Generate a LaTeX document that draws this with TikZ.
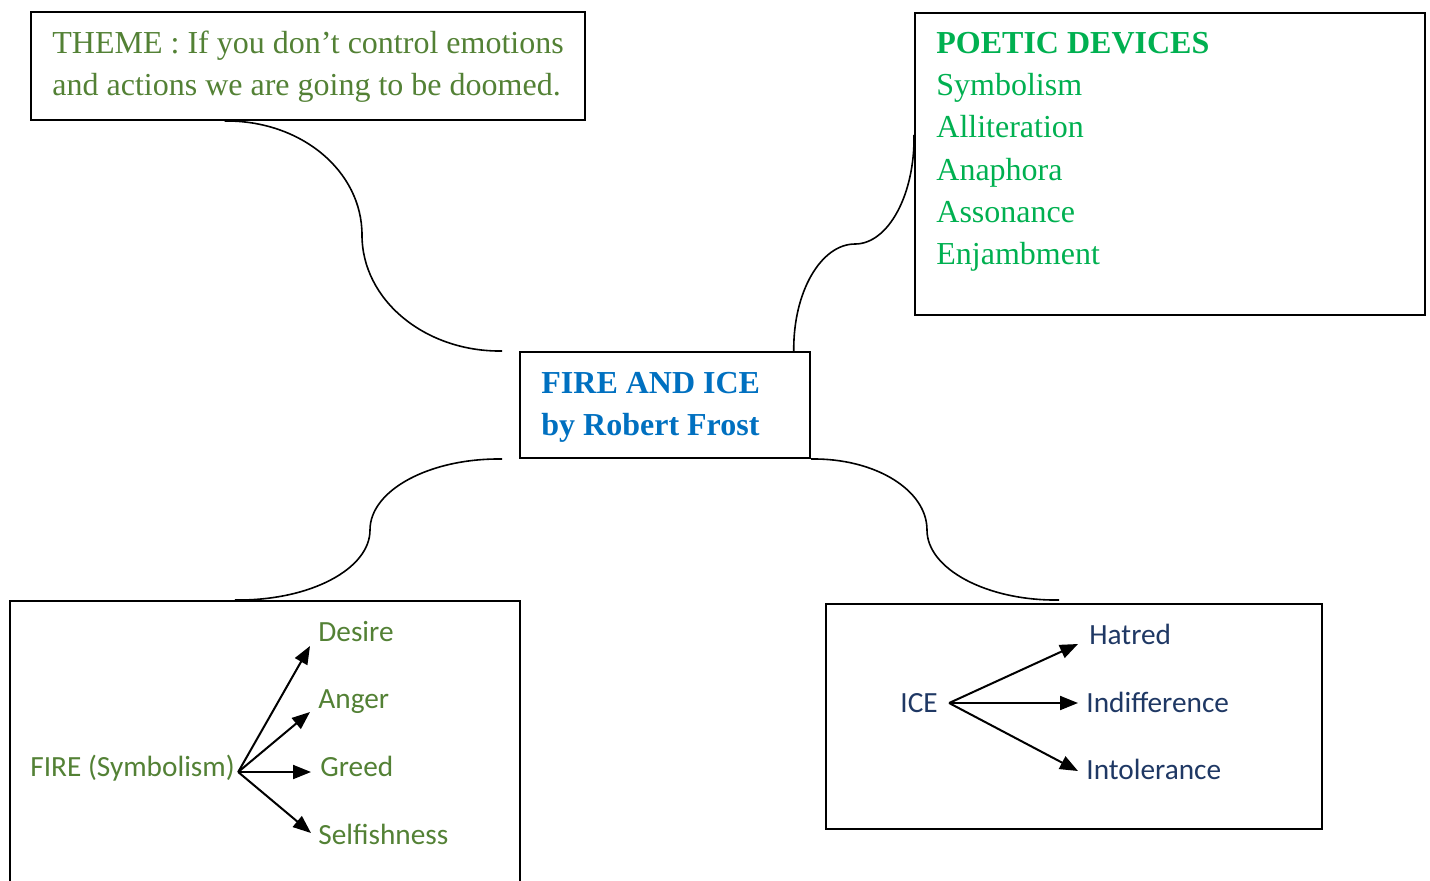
\documentclass[tikz,border=0pt]{standalone}
\usepackage{fontspec}
\setmainfont{Liberation Serif}
\newfontfamily\calibri{Carlito}
\usetikzlibrary{arrows.meta,calc,fit}
\definecolor{themegreen}{HTML}{538135}
\definecolor{devgreen}{HTML}{00B050}
\definecolor{titleblue}{HTML}{0070C0}
\definecolor{iceblue}{HTML}{1F3864}
\begin{document}
\begin{tikzpicture}[x=0.5pt,y=-0.5pt,
  box/.style={draw,line width=1pt,inner sep=0pt},
  conn/.style={line width=0.8pt},
  arr/.style={line width=1pt,-{Triangle[length=9pt,width=7pt]}},
  serif/.style={inner sep=0pt,anchor=base west,font=\fontsize{16}{21}\selectfont},
  serifb/.style={inner sep=0pt,anchor=base west,font=\fontsize{16}{21}\selectfont\bfseries},
  sans/.style={inner sep=0pt,anchor=base west,font=\calibri\fontsize{14.65}{17}\selectfont},
]
\useasboundingbox (0,0) rectangle (1430,880);
\clip (0,0) rectangle (1430,880);

% boxes
\node[box,fit={(31,12) (585,120)}] (theme) {};
\node[box,fit={(915,13) (1425,315)}] (poetic) {};
\node[box,fit={(520,352) (810,458)}] (center) {};
\node[box,fit={(10,601) (520,900)}] (fire) {};
\node[box,fit={(826,604) (1322,829)}] (ice) {};

% theme text
\node[serif,text=themegreen] (th1) at (52,53) {THEME : If you don’t control emotions};
\node[serif,text=themegreen] (th2) at (52,95) {and actions we are going to be doomed.};

% poetic devices
\node[serifb,text=devgreen] (pd0) at (936,53) {POETIC DEVICES};
\node[serif,text=devgreen] (pd1) at (936,95) {Symbolism};
\node[serif,text=devgreen] (pd2) at (936,137) {Alliteration};
\node[serif,text=devgreen] (pd3) at (936,180) {Anaphora};
\node[serif,text=devgreen] (pd4) at (936,222) {Assonance};
\node[serif,text=devgreen] (pd5) at (936,264) {Enjambment};

% title
\node[serifb,text=titleblue] (t1) at (541,393) {FIRE AND ICE};
\node[serifb,text=titleblue] (t2) at (541,435) {by Robert Frost};

% fire
\node[sans,text=themegreen] (firet) at (30,776) {FIRE (Symbolism)};
\node[sans,text=themegreen] (desire) at (318,641) {Desire};
\node[sans,text=themegreen] (anger) at (318,708) {Anger};
\node[sans,text=themegreen] (greed) at (320,776) {Greed};
\node[sans,text=themegreen] (selfish) at (318,844) {Selfishness};
\coordinate (firehub) at ($(firet.base east)+(3,-4)$);
\draw[arr] (firehub) -- ($(desire.base west)+(-8,5)$);
\draw[arr] (firehub) -- ($(anger.base west)+(-8,4)$);
\draw[arr] (firehub) -- ($(greed.base west)+(-9,-4)$);
\draw[arr] (firehub) -- ($(selfish.base west)+(-7,-11)$);

% ice
\node[sans,text=iceblue] (icet) at (900,712) {ICE};
\node[sans,text=iceblue] (hatred) at (1089,644) {Hatred};
\node[sans,text=iceblue] (indiff) at (1086,712) {Indifference};
\node[sans,text=iceblue] (intol) at (1086,779) {Intolerance};
\coordinate (icehub) at ($(icet.base east)+(11,-9)$);
\draw[arr] (icehub) -- ($(hatred.base west)+(-11,0)$);
\draw[arr] (icehub) -- ($(indiff.base west)+(-8,-9)$);
\draw[arr] (icehub) -- ($(intol.base west)+(-8,-8)$);

% connectors
\coordinate (thend) at ($(center.north west)+(-17,0)$);
\coordinate (fiend) at ($(center.south west)+(-17,0)$);
\coordinate (iceend) at ($(ice.north west)+(234,-3)$);
\draw[conn] ($(theme.south west)!0.35!(theme.south east)$) .. controls (301,120) and (362,171) .. (362,235)
  .. controls (362,300) and (425,352) .. (thend);
\draw[conn] ($(center.north west)!0.941!(center.north east)$) .. controls (793,292) and (821,244) .. (855,244)
  .. controls (888,244) and (915,195) .. ($(poetic.north west)!0.404!(poetic.south west)$);
\draw[conn] (fiend) .. controls (430,458) and (370,490) .. (370,530)
  .. controls (370,569) and (310,601) .. ($(fire.north west)!0.441!(fire.north east)$);
\draw[conn] (center.south east) .. controls (875,458) and (927,490) .. (927,530)
  .. controls (927,569) and (987,601) .. (iceend);
\end{tikzpicture}
\end{document}
